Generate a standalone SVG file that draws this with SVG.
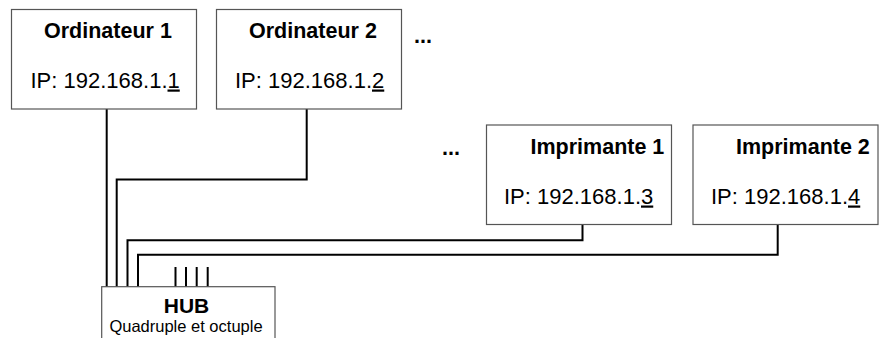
<svg xmlns="http://www.w3.org/2000/svg" width="882" height="338" viewBox="0 0 882 338">
<style>
.box{fill:#fff;stroke:#555;stroke-width:1.2}
.t{font-family:"Liberation Sans",Arial,sans-serif;fill:#000}
.b{font-weight:bold;font-size:21.5px}
.r{font-size:22px}
.w{fill:none;stroke:#000;stroke-width:2}
.u{text-decoration:underline}
</style>
<rect width="882" height="338" fill="#fff"/>
<g id="connectors" class="w">
<path d="M106.7 109V287"/>
<path d="M306.7 109V179.5H116.7V287"/>
<path d="M582.5 224V240.3H127.5V287"/>
<path d="M777.7 224V254.8H138V287"/>
<path d="M175.5 267V287M186 267V287M196.7 267V287M207.7 267V287"/>
</g>
<g id="ordinateur1">
<rect class="box" x="11.5" y="9.5" width="185" height="99.5"/>
<text class="t b" x="44" y="38">Ordinateur 1</text>
<text class="t r" x="30.5" y="87.5">IP: 192.168.1.<tspan class="u">1</tspan></text>
</g>
<g id="ordinateur2">
<rect class="box" x="216.5" y="9.5" width="185" height="99.5"/>
<text class="t b" x="249" y="38">Ordinateur 2</text>
<text class="t r" x="235" y="87.5">IP: 192.168.1.<tspan class="u">2</tspan></text>
</g>
<text id="dots1" class="t b" x="414" y="42.5">...</text>
<text id="dots2" class="t b" x="442" y="155">...</text>
<g id="imprimante1">
<rect class="box" x="486.5" y="125" width="185" height="99.5"/>
<text class="t b" x="530.5" y="153.5">Imprimante 1</text>
<text class="t r" x="504" y="203.5">IP: 192.168.1.<tspan class="u">3</tspan></text>
</g>
<g id="imprimante2">
<rect class="box" x="693" y="125" width="185" height="99.5"/>
<text class="t b" x="736" y="153.5">Imprimante 2</text>
<text class="t r" x="711" y="203.5">IP: 192.168.1.<tspan class="u">4</tspan></text>
</g>
<g id="hub">
<rect class="box" x="101.7" y="286.7" width="173.3" height="70"/>
<text class="t" x="186.5" y="312.5" font-size="21" font-weight="bold" text-anchor="middle">HUB</text>
<text class="t" x="186" y="332" font-size="16.5" text-anchor="middle">Quadruple et octuple</text>
</g>
</svg>
